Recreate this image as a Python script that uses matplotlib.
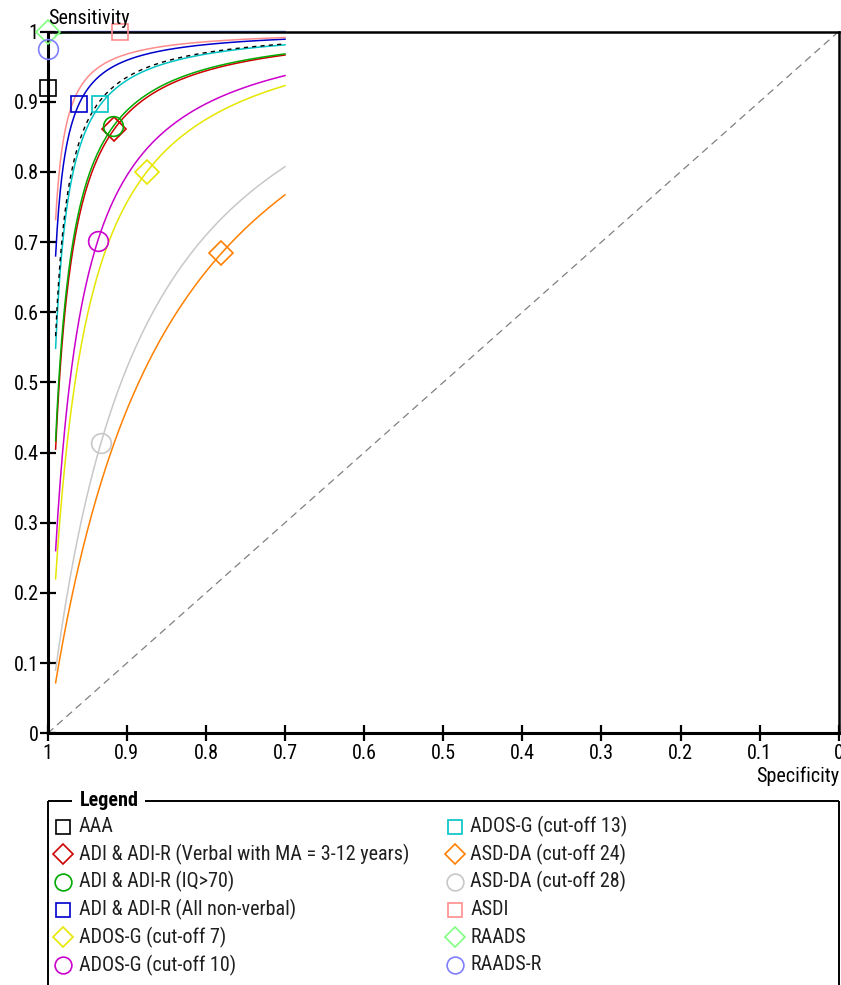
"""SROC plot of autism diagnostic instruments (RevMan style).

Each test is shown as a summary point (specificity, sensitivity) and a
symmetric SROC curve with constant log diagnostic odds ratio.
"""

import matplotlib

matplotlib.use("Agg")
import matplotlib.pyplot as plt
import numpy as np
from matplotlib.lines import Line2D

plt.rcParams["font.family"] = ["Roboto Condensed", "DejaVu Sans"]

TESTS = [
    "AAA",
    "ADI & ADI-R (Verbal with MA = 3-12 years)",
    "ADI & ADI-R (IQ>70)",
    "ADI & ADI-R (All non-verbal)",
    "ADOS-G (cut-off 7)",
    "ADOS-G (cut-off 10)",
    "ADOS-G (cut-off 13)",
    "ASD-DA (cut-off 24)",
    "ASD-DA (cut-off 28)",
    "ASDI",
    "RAADS",
    "RAADS-R",
]
SPECIFICITY = [1.00, 0.916, 0.917, 0.960, 0.875, 0.937, 0.934, 0.781, 0.933, 0.909, 1.00, 1.00]
SENSITIVITY = [0.920, 0.861, 0.865, 0.897, 0.800, 0.702, 0.897, 0.685, 0.413, 1.00, 1.00, 0.975]
# log diagnostic odds ratio of each SROC curve
LOG_DOR = [4.86, 4.21, 4.26, 5.35, 3.33, 3.55, 4.79, 2.04, 2.28, 5.60, 9.9, 12.0]
CURVE_SPEC_RANGE = (0.99, 0.70)

COLORS = ["#000000", "#CC0000", "#00AA00", "#0000CC", "#E6E600", "#CC00CC",
          "#00C4C4", "#FF8000", "#C8C8C8", "#FF8C8C", "#80FF80", "#8080FF"]
MARKERS = ["s", "D", "o", "s", "D", "o", "s", "D", "o", "s", "D", "o"]
MSIZE = {"s": 12.2, "D": 11.8, "o": 14.2}

XTICKS = [1, 0.9, 0.8, 0.7, 0.6, 0.5, 0.4, 0.3, 0.2, 0.1, 0]
YTICKS = [0, 0.1, 0.2, 0.3, 0.4, 0.5, 0.6, 0.7, 0.8, 0.9, 1]

FS = 14.5
W, H = 841, 985
fig = plt.figure(figsize=(W / 100, H / 100), dpi=100)
ax = fig.add_axes([47.7 / W, 1 - 733.3 / H, 791 / W, 701.8 / H])

# chance line
ax.plot([1, 0], [0, 1], color="#808080", lw=0.9, dashes=(6, 4), zorder=1)

spec_grid = np.linspace(CURVE_SPEC_RANGE[0], CURVE_SPEC_RANGE[1], 300)
fpr = 1 - spec_grid
logit_fpr = np.log(fpr / (1 - fpr))
for i, name in enumerate(TESTS):
    if name == "AAA":
        continue
    sens_curve = 1 / (1 + np.exp(-(LOG_DOR[i] + logit_fpr)))
    ax.plot(spec_grid, sens_curve, color=COLORS[i], lw=1.1, zorder=2, clip_on=False)
# AAA curve is drawn dashed on top of the near-identical ADOS-G 13 curve
sens_aaa = 1 / (1 + np.exp(-(LOG_DOR[0] + logit_fpr)))
ax.plot(spec_grid, sens_aaa, color="black", lw=1.0, dashes=(3, 3), zorder=2.5)

for i, name in enumerate(TESTS):
    ax.plot(SPECIFICITY[i], SENSITIVITY[i], marker=MARKERS[i], ms=MSIZE[MARKERS[i]],
            mfc="none", mec=COLORS[i], mew=1.2, ls="none", zorder=4, clip_on=False)

ax.set_xlim(1, 0)
ax.set_ylim(0, 1)
ax.set_xticks(XTICKS)
ax.set_xticklabels([f"{v:g}" for v in XTICKS])
ax.set_yticks(YTICKS)
ax.set_yticklabels([f"{v:g}" for v in YTICKS])
ax.tick_params(axis="both", direction="inout", length=11, width=1.6, labelsize=FS,
               color="black")
ax.tick_params(axis="x", pad=2)
ax.tick_params(axis="y", pad=1)
for side in ["left", "bottom"]:
    ax.spines[side].set_linewidth(2.2)
for side in ["top", "right"]:
    ax.spines[side].set_linewidth(1.8)
ax.patch.set_alpha(0)

fig.text(48 / W, 1 - 19 / H, "Sensitivity", ha="left", va="center", fontsize=FS)
fig.text(839 / W, 1 - 776 / H, "Specificity", ha="right", va="center", fontsize=FS)

# legend panel, laid out in pixel coordinates
lax = fig.add_axes([0, 0, 1, 1], zorder=-1)
lax.set_xlim(0, W)
lax.set_ylim(H, 0)
lax.axis("off")
frame_top = 801
frame_kw = dict(color="black", lw=1.4, solid_capstyle="butt")
lax.add_line(Line2D([48, 72], [frame_top, frame_top], **frame_kw))
lax.add_line(Line2D([145, 839], [frame_top, frame_top], **frame_kw))
lax.add_line(Line2D([48, 48], [frame_top, H + 5], **frame_kw))
lax.add_line(Line2D([839, 839], [frame_top, H + 5], **frame_kw))
lax.text(80, frame_top, "Legend", fontsize=FS, fontweight="bold", va="center", ha="left")

n_rows = 6
col_x = [(63.5, 79), (455, 470.5)]
for i, name in enumerate(TESTS):
    col, row = divmod(i, n_rows)
    y = 826.5 + row * 27.7
    mx, tx = col_x[col]
    lax.plot(mx, y, marker=MARKERS[i], ms=MSIZE[MARKERS[i]] * 0.85, mfc="none",
             mec=COLORS[i], mew=1.2, ls="none")
    lax.text(tx, y, name, fontsize=FS, va="center", ha="left", color="#202020")

fig.savefig("out.png", dpi=100)
